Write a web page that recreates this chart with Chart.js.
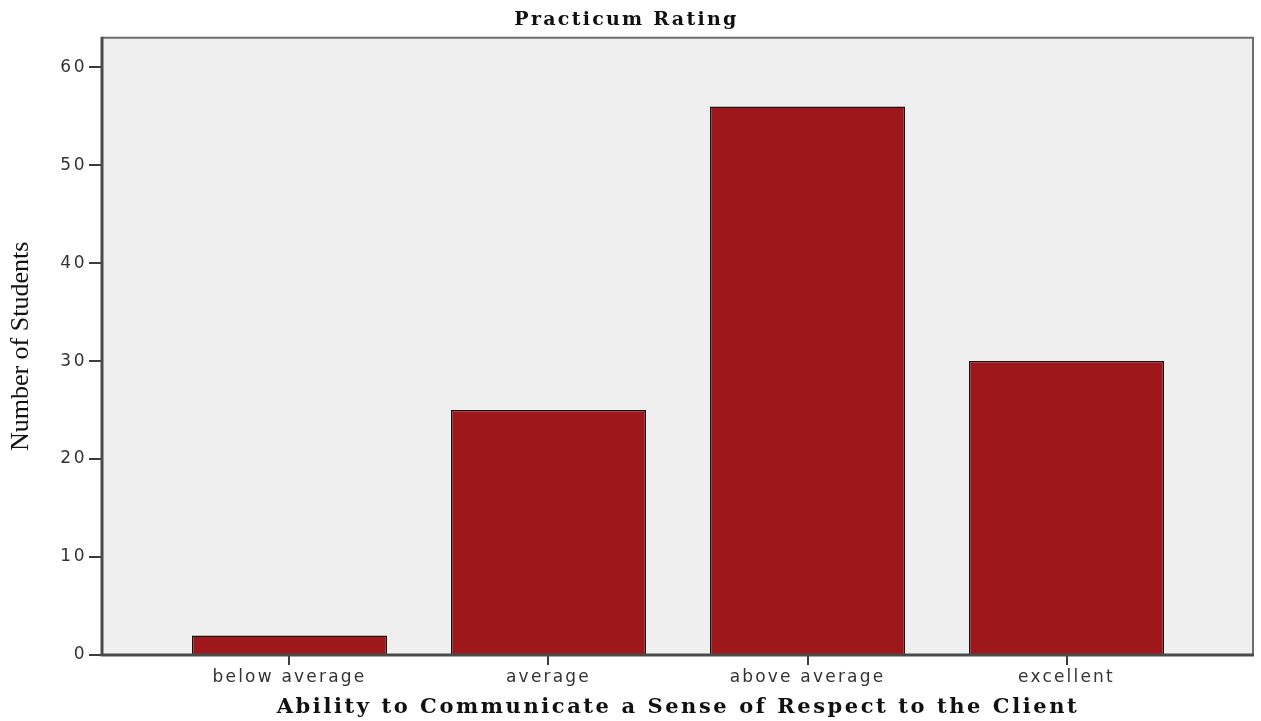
<!DOCTYPE html>
<html>
<head>
<meta charset="utf-8">
<script src="https://cdn.jsdelivr.net/npm/chart.js@4"></script>
<style>
  html, body { margin: 0; padding: 0; background: #ffffff; }
  #wrap { width: 1261px; height: 721px; }
</style>
</head>
<body>
<div id="wrap"><canvas id="c" width="1261" height="721"></canvas></div>
<script>
// ---- data ----
const categories = ['below average', 'average', 'above average', 'excellent'];
const studentCounts = [2, 25, 56, 30];
const yTickValues = [0, 10, 20, 30, 40, 50, 60];
const chartTitle = 'Practicum Rating';
const xAxisTitle = 'Ability to Communicate a Sense of Respect to the Client';
const yAxisTitle = 'Number of Students';

// ---- styling ----
const titleFont = { family: "'DejaVu Serif', serif", weight: 'bold', size: 19 };
const xTitleFont = { family: "'DejaVu Serif', serif", weight: 'bold', size: 21 };
const yTitleFont = { family: "'Liberation Serif', serif", weight: 'normal', size: 26 };
const tickFont = { family: "'DejaVu Sans', sans-serif", size: 17 };

function fontString(f) {
  return (f.weight || 'normal') + ' ' + f.size + 'px ' + f.family;
}
function spacingFor(ctx, text, font, target) {
  ctx.save();
  try { ctx.letterSpacing = '0px'; } catch (e) {}
  ctx.font = fontString(font);
  const w = ctx.measureText(text).width;
  ctx.restore();
  return Math.max(0, (target - w) / Math.max(1, text.length - 1));
}

const spssStyle = {
  id: 'spssStyle',
  beforeDraw(chart) {
    const { ctx, chartArea: a } = chart;
    ctx.save();
    ctx.fillStyle = '#efefef';
    ctx.fillRect(a.left, a.top, a.right - a.left, a.bottom - a.top);
    ctx.restore();

    const wrap = (obj, method, getSpacing) => {
      if (!obj || obj['__wrapped_' + method]) return;
      const orig = obj[method];
      obj[method] = function (...args) {
        const s = getSpacing();
        ctx.save();
        try { ctx.letterSpacing = s + 'px'; } catch (e) {}
        const r = orig.apply(this, args);
        ctx.restore();
        return r;
      };
      obj['__wrapped_' + method] = true;
    };
    wrap(chart.titleBlock, 'draw', () => spacingFor(ctx, chartTitle, titleFont, 222));
    wrap(chart.scales.x, 'drawTitle', () => spacingFor(ctx, xAxisTitle, xTitleFont, 800));
    wrap(chart.scales.y, 'drawTitle', () => spacingFor(ctx, yAxisTitle, yTitleFont, 207));
    wrap(chart.scales.x, 'drawLabels', () => 2.2);
    wrap(chart.scales.y, 'drawLabels', () => 2.5);
  },
  afterDatasetsDraw(chart) {
    const { ctx, chartArea: a } = chart;
    ctx.save();
    ctx.lineWidth = 2;
    ctx.strokeStyle = '#6e6e6e';
    ctx.beginPath();
    ctx.moveTo(a.left, a.top);
    ctx.lineTo(a.right, a.top);
    ctx.lineTo(a.right, a.bottom);
    ctx.stroke();
    ctx.strokeStyle = '#4a4a4a';
    ctx.lineWidth = 3;
    ctx.beginPath();
    ctx.moveTo(a.left - 1, a.top - 1);
    ctx.lineTo(a.left - 1, a.bottom);
    ctx.lineTo(a.right + 1, a.bottom);
    ctx.stroke();
    ctx.restore();
  }
};

const chart = new Chart(document.getElementById('c'), {
  type: 'bar',
  data: {
    datasets: [{
      label: yAxisTitle,
      data: categories.map((c, i) => ({ x: i, y: studentCounts[i] })),
      backgroundColor: '#9e171b',
      borderColor: '#1e1010',
      borderWidth: 1.5,
      borderSkipped: 'start',
      barPercentage: 0.753,
      categoryPercentage: 1
    }]
  },
  options: {
    responsive: false,
    devicePixelRatio: 1,
    animation: false,
    events: [],
    layout: { padding: { left: 0, right: 8, top: 0, bottom: 0 } },
    plugins: {
      legend: { display: false },
      tooltip: { enabled: false },
      title: {
        display: true,
        text: chartTitle,
        color: '#111111',
        font: titleFont,
        padding: { top: 9, bottom: 6 }
      }
    },
    scales: {
      x: {
        type: 'linear',
        min: -0.72,
        max: 3.72,
        offset: false,
        afterBuildTicks: (scale) => { scale.ticks = categories.map((c, i) => ({ value: i })); },
        afterFit: (scale) => { scale.height = 66; },
        ticks: {
          autoSkip: false,
          maxRotation: 0,
          minRotation: 0,
          padding: 2,
          color: '#333333',
          font: tickFont,
          callback: (v) => categories[v]
        },
        grid: {
          offset: false,
          drawOnChartArea: false,
          drawTicks: true,
          tickLength: 10,
          color: '#3c3c3c',
          lineWidth: 2
        },
        border: { display: false },
        title: {
          display: true,
          text: xAxisTitle,
          color: '#111111',
          font: xTitleFont,
          padding: { top: 0, bottom: 1 }
        }
      },
      y: {
        type: 'linear',
        min: 0,
        max: 63,
        afterBuildTicks: (scale) => { scale.ticks = yTickValues.map(v => ({ value: v })); },
        afterFit: (scale) => { scale.width = 103; },
        ticks: {
          padding: 2,
          color: '#333333',
          font: tickFont
        },
        grid: {
          offset: false,
          drawOnChartArea: false,
          drawTicks: true,
          tickLength: 14,
          color: '#3c3c3c',
          lineWidth: 2
        },
        border: { display: false },
        title: {
          display: true,
          text: yAxisTitle,
          color: '#111111',
          font: yTitleFont,
          padding: { top: 6, bottom: 0 }
        }
      }
    }
  },
  plugins: [spssStyle]
});
</script>
</body>
</html>
